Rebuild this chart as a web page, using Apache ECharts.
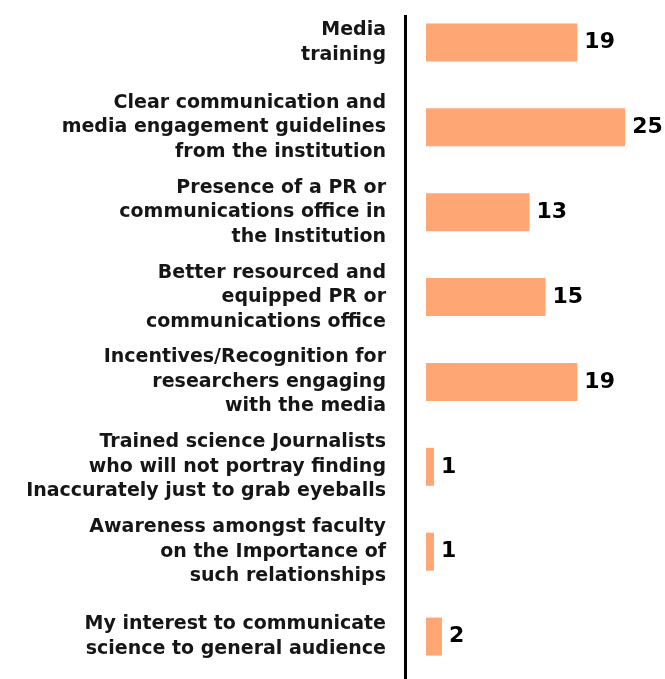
<!DOCTYPE html>
<html>
<head>
<meta charset="utf-8">
<script src="https://cdn.jsdelivr.net/npm/echarts@6/dist/echarts.min.js"></script>
<style>
  html, body { margin: 0; padding: 0; background: #ffffff; }
  #chart { width: 665px; height: 679px; }
</style>
</head>
<body>
<div id="chart"></div>
<script>
// Support measures, top to bottom
const categories = [
  'Media\ntraining',
  'Clear communication and\nmedia engagement guidelines\nfrom the institution',
  'Presence of a PR or\ncommunications office in\nthe Institution',
  'Better resourced and\nequipped PR or\ncommunications office',
  'Incentives/Recognition for\nresearchers engaging\nwith the media',
  'Trained science Journalists\nwho will not portray finding\nInaccurately just to grab eyeballs',
  'Awareness amongst faculty\non the Importance of\nsuch relationships',
  'My interest to communicate\nscience to general audience'
];
const counts = [19, 25, 13, 15, 19, 1, 1, 2];

const chart = echarts.init(document.getElementById('chart'), null, { renderer: 'canvas' });

chart.setOption({
  backgroundColor: '#ffffff',
  animation: false,
  grid: { left: 426, right: 0, top: 0, bottom: 0, containLabel: false },
  xAxis: {
    type: 'value',
    min: 0,
    max: 30,
    show: false
  },
  yAxis: {
    type: 'category',
    data: categories,
    inverse: true,
    axisLine: { show: false },
    axisTick: { show: false },
    splitLine: { show: false },
    axisLabel: {
      margin: 40,
      align: 'right',
      color: '#161616',
      fontFamily: 'DejaVu Sans',
      fontWeight: 'bold',
      fontSize: 19,
      lineHeight: 24.5,
      padding: [0, 0, 16, 0]
    }
  },
  series: [{
    type: 'bar',
    data: counts,
    barWidth: 38,
    itemStyle: { color: '#FEA674' },
    label: {
      show: true,
      position: 'right',
      distance: 7,
      color: '#000000',
      fontFamily: 'DejaVu Sans',
      fontWeight: 'bold',
      fontSize: 22
    }
  }],
  graphic: [{
    type: 'line',
    shape: { x1: 405.5, y1: 15, x2: 405.5, y2: 679 },
    style: { stroke: '#000000', lineWidth: 3 }
  }]
});
</script>
</body>
</html>
